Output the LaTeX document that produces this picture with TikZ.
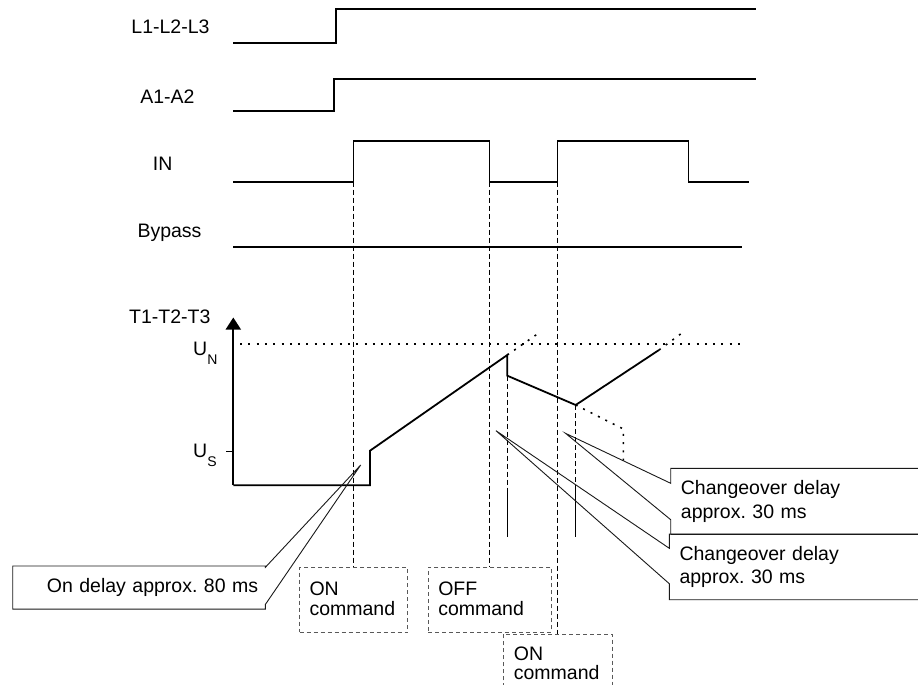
\documentclass[tikz,border=0pt]{standalone}
\usepackage{fontspec}
\setmainfont{Liberation Sans}
\usetikzlibrary{arrows.meta,calc}
\frenchspacing

\newcommand{\sigfont}{\fontsize{19.5}{22.5}\selectfont}
\newcommand{\levelname}[1]{U\raisebox{-9.5pt}{\fontsize{14}{14}\selectfont #1}}

\tikzset{
  signal/.style={line width=1.8pt},
  guide/.style={line width=0.9pt, dash pattern=on 5pt off 3pt},
  limit/.style={line width=1.6pt, dash pattern=on 2pt off 6.3pt},
  pointer/.style={line width=0.9pt, draw=black!90},
  cmdline/.style={draw=black!65, line width=1.1pt, dash pattern=on 4pt off 3pt},
  cmdbox/.style={cmdline, font=\fontsize{19.5}{20.3}\selectfont, text height=14pt, text depth=23.5pt,
    anchor=north west, align=left, inner xsep=10pt, inner ysep=0pt, minimum height=65pt},
  notebox/.style={anchor=north west, inner ysep=0pt, font=\fontsize{19.5}{23.3}\selectfont},
}

\begin{document}
\begin{tikzpicture}[x=1pt, y=-1pt, font=\sigfont]
\useasboundingbox (0,0) rectangle (918,685);
\clip (0,0) rectangle (918,685);

% signal names
\node [anchor=base east] (lline) at (213,34) {L1-L2-L3};
\node [anchor=base east] (aline) at (198,103) {A1-A2};
\node [anchor=base east] (inline) at (176,170) {IN};
\node [anchor=base east] (bypass) at (205,237) {Bypass};
\node [anchor=base east] (tline) at (214,323) {T1-T2-T3};

% supply and control signals
\draw [signal] (233.3,42.7) -- (335.7,42.7) -- (335.7,9.3) -- (756,9.3);
\draw [signal] (233.3,111) -- (334,111) -- (334,79) -- (756,79);

\coordinate (inon) at (353.5,181.7);
\coordinate (inoff) at (489.5,181.7);
\coordinate (inonagain) at (557.5,181.7);
\draw [signal] (233.3,181.7) -- (inon) -- (353.5,140.7) -- (489.5,140.7) -- (inoff)
  -- (inonagain) -- (557.5,140.7) -- (688.5,140.7) -- (688.5,181.7) -- (748.5,181.7);

\draw [signal] (233.3,247.3) -- (742,247.3);

% output voltage
\draw [signal, -{Triangle[width=15pt,length=12pt]}] (233.3,485.3) -- (233.3,317.5);
\draw [signal] (226,451.5) -- (233.3,451.5);
\node [anchor=base west, inner sep=0pt] (un) at (193,355) {\levelname{N}};
\node [anchor=base west, inner sep=0pt] (us) at (193,457.3) {\levelname{S}};
\draw [limit] (240,344) -- (743,344);

\coordinate (start) at (370,450.7);
\coordinate (peak) at (507.3,355);
\coordinate (drop) at (507.3,375.7);
\coordinate (valley) at (575.7,405);
\coordinate (top) at (659,350);
\draw [signal] (233.3,485.3) -- (370,485.3) -- (start) -- (peak) -- (drop) -- (valley) -- (top);
\draw [limit] (peak) -- (541,331.5);
\draw [limit] (top) -- (683.3,332);
\draw [limit] (valley) -- (623.3,429) -- (623.3,460.7);

% changeover marks
\draw [guide] (drop) -- (507.3,489);
\draw [line width=0.9pt] (507.3,489) -- (507.3,536.7);
\draw [guide] (valley) -- (575.7,489);
\draw [line width=0.9pt] (575.7,489) -- (575.7,536.7);

% command boxes
\node [cmdbox, text width=88.3pt] (oncmd) at (299,566.7) {ON\\command};
\node [cmdbox, text width=103pt] (offcmd) at (427.7,566.7) {OFF\\command};
\node [cmdbox, draw=none, font=\fontsize{19.5}{19.3}\selectfont, text width=88.4pt, minimum height=0pt,
  text height=25.7pt, text depth=21.3pt] (onagaincmd) at (503.3,634.3) {ON\\command};
\draw [cmdline] ($(onagaincmd.south west)+(0,5)$) -- (onagaincmd.north west) -- (onagaincmd.north east) -- ($(onagaincmd.south east)+(0,5)$);
\draw [guide] (inon) -- (inon |- oncmd.north);
\draw [guide] (inoff) -- (inoff |- offcmd.north);
\draw [guide] (inonagain) -- (inonagain |- onagaincmd.north);

% callouts
\coordinate (ondelaytip) at (360.7,465);
\coordinate (firsttip) at (565.5,433.3);
\coordinate (secondtip) at (496,430.7);

\node [notebox, text width=238.3pt, align=right, inner xsep=7pt, minimum height=42.7pt] (ondelay) at (12.7,566) {On delay approx. 80 ms};
\draw [pointer] (ondelay.north west) -- (ondelay.north east) -- ++(0,1.3) -- (ondelaytip)
  -- ($(ondelay.south east)+(0,-4.7)$) -- (ondelay.south east) -- (ondelay.south west) -- cycle;

\node [notebox, text width=249.3pt, align=left, inner xsep=10pt, minimum height=65.7pt] (firstdelay) at (670.7,468.3) {Changeover delay\\approx. 30 ms};
\draw [pointer] (firstdelay.north east) -- (firstdelay.north west) -- ++(0,15) -- (firsttip)
  -- ($(firstdelay.south west)+(0,-14.7)$) -- (firstdelay.south west) -- (firstdelay.south east);

\node [notebox, text width=250.7pt, align=left, inner xsep=10pt, minimum height=65.3pt] (seconddelay) at (669.3,534) {Changeover delay\\approx. 30 ms};
\draw [pointer] (seconddelay.north east) -- (seconddelay.north west) -- ++(0,14.3) -- (secondtip)
  -- ($(seconddelay.south west)+(0,-16)$) -- (seconddelay.south west) -- (seconddelay.south east);
\end{tikzpicture}
\end{document}
